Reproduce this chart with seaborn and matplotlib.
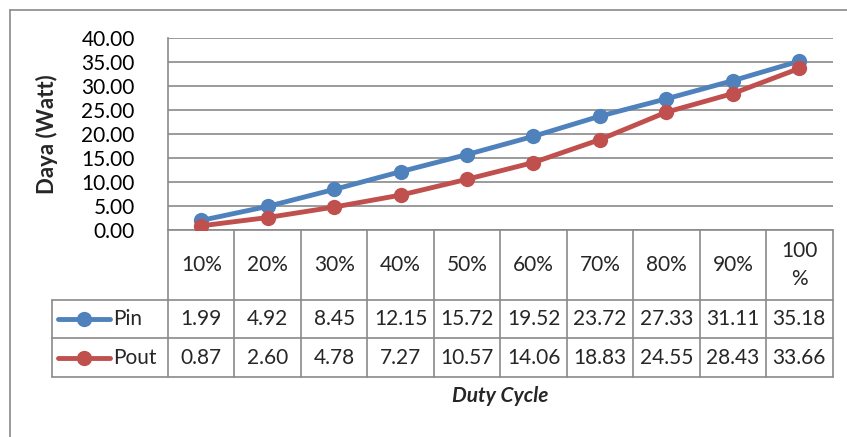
import matplotlib
matplotlib.use("Agg")
import matplotlib.pyplot as plt
import pandas as pd
import seaborn as sns
from matplotlib.lines import Line2D
from matplotlib.transforms import blended_transform_factory

# Data
duty = ["10%", "20%", "30%", "40%", "50%", "60%", "70%", "80%", "90%", "100%"]
pin = [1.99, 4.92, 8.45, 12.15, 15.72, 19.52, 23.72, 27.33, 31.11, 35.18]
pout = [0.87, 2.60, 4.78, 7.27, 10.57, 14.06, 18.83, 24.55, 28.43, 33.66]
header_labels = ["10%", "20%", "30%", "40%", "50%", "60%", "70%", "80%", "90%", "100\n%"]
series_names = ["Pin", "Pout"]
colors = {"Pin": "#4F81BD", "Pout": "#C0504D"}

df = pd.DataFrame({
    "duty": duty * 2,
    "daya": pin + pout,
    "seri": ["Pin"] * len(pin) + ["Pout"] * len(pout),
})

sns.set_style("white")
plt.rcParams["font.family"] = ["Lato", "DejaVu Sans"]
grid_col = "#8a8a8a"
fs = 15

fig = plt.figure(figsize=(8.47, 4.37), dpi=100)
ax = fig.add_axes([168 / 847, 1 - 230 / 437, 664.5 / 847, 192 / 437])

sns.lineplot(data=df, x="duty", y="daya", hue="seri", palette=colors,
             marker="o", markersize=11, markeredgewidth=0, linewidth=3.5,
             legend=False, ax=ax, zorder=3)

ax.set_xlim(-0.5, 9.5)
ax.set_ylim(0, 40)
ax.set_yticks(range(0, 41, 5))
ax.set_yticklabels([f"{v:.2f}" for v in range(0, 41, 5)], fontsize=fs, color="black")
ax.tick_params(axis="y", length=0, pad=24)
ax.set_xticks([])
ax.set_xlabel("")
ax.set_ylabel("Daya (Watt)", fontsize=16, fontweight="bold")
ax.yaxis.set_label_coords(-(168 - 58) / 664.5, 0.5)
ax.grid(axis="y", color=grid_col, linewidth=1.2)
for s in ["top", "right", "bottom"]:
    ax.spines[s].set_visible(False)
ax.spines["left"].set_color(grid_col)
ax.spines["left"].set_linewidth(1.2)

# Data table under the plot (x in data units, y in axes fraction)
tr = blended_transform_factory(ax.transData, ax.transAxes)
y_top = 0.0
y_head = -(300 - 230) / 192
y_pin = -(338 - 230) / 192
y_pout = -(377 - 230) / 192
x_leg = -0.5 - (168 - 52) / 66.45
lkw = dict(color=grid_col, linewidth=1.2, transform=tr, clip_on=False)

for i in range(len(duty) + 1):
    ax.add_line(Line2D([i - 0.5, i - 0.5], [y_top, y_pout], **lkw))
ax.add_line(Line2D([x_leg, x_leg], [y_head, y_pout], **lkw))
ax.add_line(Line2D([-0.5, 9.5], [y_top, y_top], **lkw))
for yy in [y_head, y_pin, y_pout]:
    ax.add_line(Line2D([x_leg, 9.5], [yy, yy], **lkw))

for i, lab in enumerate(header_labels):
    ax.text(i, (y_top + y_head) / 2, lab, transform=tr, ha="center", va="center",
            fontsize=fs, linespacing=1.5)
rows = [(pin, (y_head + y_pin) / 2), (pout, (y_pin + y_pout) / 2)]
for vals, yc in rows:
    for i, v in enumerate(vals):
        ax.text(i, yc, f"{v:.2f}", transform=tr, ha="center", va="center", fontsize=fs)

# Legend keys inside the table
x_l0 = -0.5 - (168 - 58) / 66.45
x_l1 = -0.5 - (168 - 110) / 66.45
x_txt = -0.5 - (168 - 113) / 66.45
for name, (vals, yc) in zip(series_names, rows):
    ax.add_line(Line2D([x_l0, x_l1], [yc, yc], color=colors[name], linewidth=3.5,
                       transform=tr, clip_on=False, solid_capstyle="round"))
    ax.add_line(Line2D([(x_l0 + x_l1) / 2], [yc], color=colors[name], marker="o",
                       markersize=11, markeredgewidth=0, transform=tr, clip_on=False))
    ax.text(x_txt, yc, name, transform=tr, ha="left", va="center", fontsize=fs)

ax.text(4.5, -(396 - 230) / 192, "Duty Cycle", transform=tr, ha="center", va="center",
        fontsize=fs, fontweight="bold", fontstyle="italic")

# Chart area border
fig.add_artist(Line2D([9.5 / 847, 9.5 / 847], [0, 1 - 10 / 437], color=grid_col,
                      linewidth=1.2, transform=fig.transFigure))
fig.add_artist(Line2D([9.5 / 847, 1], [1 - 10 / 437, 1 - 10 / 437], color=grid_col,
                      linewidth=1.2, transform=fig.transFigure))

fig.savefig("out.png", dpi=100)
